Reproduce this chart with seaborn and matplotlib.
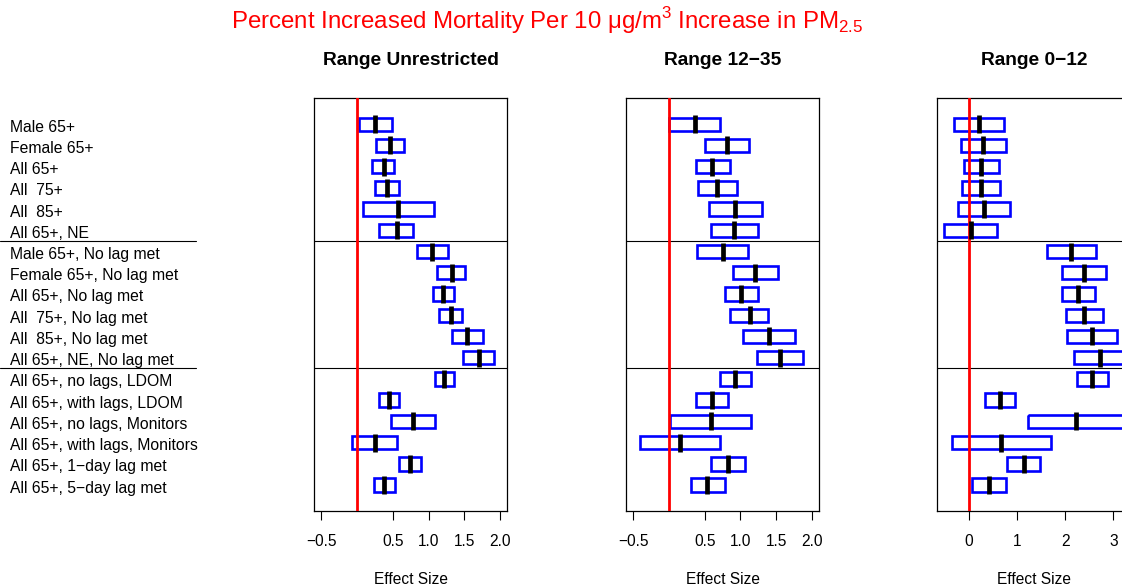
import numpy as np
import matplotlib
matplotlib.use("Agg")
import matplotlib.pyplot as plt
import matplotlib.transforms as mtransforms
from matplotlib.lines import Line2D
import seaborn as sns


# row labels, top to bottom
LABELS = [
    "Male 65+",
    "Female 65+",
    "All 65+",
    "All  75+",
    "All  85+",
    "All 65+, NE",
    "Male 65+, No lag met",
    "Female 65+, No lag met",
    "All 65+, No lag met",
    "All  75+, No lag met",
    "All  85+, No lag met",
    "All 65+, NE, No lag met",
    "All 65+, no lags, LDOM",
    "All 65+, with lags, LDOM",
    "All 65+, no lags, Monitors",
    "All 65+, with lags, Monitors",
    "All 65+, 1\u2212day lag met",
    "All 65+, 5\u2212day lag met",
]

PANEL_TITLES = ["Range Unrestricted", "Range 12\u221235", "Range 0\u221212"]

# Range Unrestricted
UNR_EST = [0.25, 0.46, 0.37, 0.42, 0.57, 0.55,
           1.05, 1.32, 1.20, 1.31, 1.53, 1.70,
           1.22, 0.45, 0.78, 0.25, 0.74, 0.38]
UNR_LO = [0.02, 0.26, 0.21, 0.25, 0.08, 0.31,
          0.84, 1.12, 1.06, 1.15, 1.32, 1.48,
          1.09, 0.31, 0.47, -0.07, 0.59, 0.23]
UNR_HI = [0.48, 0.66, 0.52, 0.59, 1.07, 0.78,
          1.27, 1.51, 1.35, 1.47, 1.76, 1.91,
          1.36, 0.59, 1.09, 0.56, 0.89, 0.53]

# Range 12-35
MID_EST = [0.36, 0.81, 0.61, 0.68, 0.93, 0.91,
           0.75, 1.21, 1.01, 1.13, 1.40, 1.55,
           0.93, 0.60, 0.59, 0.15, 0.83, 0.54]
MID_LO = [0.00, 0.50, 0.38, 0.41, 0.56, 0.59,
          0.40, 0.90, 0.78, 0.86, 1.04, 1.23,
          0.72, 0.38, 0.01, -0.41, 0.59, 0.31]
MID_HI = [0.71, 1.12, 0.85, 0.95, 1.30, 1.24,
          1.10, 1.52, 1.25, 1.39, 1.76, 1.87,
          1.15, 0.82, 1.15, 0.72, 1.06, 0.78]

# Range 0-12
LOW_EST = [0.21, 0.30, 0.26, 0.26, 0.31, 0.04,
           2.12, 2.39, 2.27, 2.39, 2.55, 2.72,
           2.55, 0.64, 2.23, 0.68, 1.15, 0.42]
LOW_LO = [-0.30, -0.16, -0.09, -0.14, -0.21, -0.50,
          1.62, 1.94, 1.93, 2.01, 2.03, 2.19,
          2.24, 0.33, 1.22, -0.35, 0.80, 0.07]
LOW_HI = [0.73, 0.78, 0.62, 0.66, 0.85, 0.59,
          2.63, 2.85, 2.61, 2.78, 3.08, 3.19,
          2.88, 0.97, 3.20, 1.70, 1.48, 0.77]

TICKS_A = [-0.5, 0.5, 1.0, 1.5, 2.0]
TICK_LABELS_A = ["\u22120.5", "0.5", "1.0", "1.5", "2.0"]
TICKS_C = [0, 1, 2, 3]
TICK_LABELS_C = ["0", "1", "2", "3"]


def main():

    sns.set_theme(style="ticks")
    plt.rcParams["font.family"] = ["Liberation Sans", "DejaVu Sans"]
    plt.rcParams["mathtext.fontset"] = "custom"
    plt.rcParams["mathtext.rm"] = "Liberation Sans"

    W, H = 1122, 588
    fig = plt.figure(figsize=(W / 100, H / 100), dpi=100)
    fig.patch.set_facecolor("white")

    rows = np.arange(1, len(LABELS) + 1)

    panels = [
        (UNR_EST, UNR_LO, UNR_HI, (-0.5, 2.0), TICKS_A, TICK_LABELS_A),
        (MID_EST, MID_LO, MID_HI, (-0.5, 2.0), TICKS_A, TICK_LABELS_A),
        (LOW_EST, LOW_LO, LOW_HI, (-0.5, 3.2), TICKS_C, TICK_LABELS_C),
    ]
    lefts = [314.3, 626.0, 937.3]
    pw = 193.0
    top_px, bot_px = 98.3, 511.0

    axes = []
    for i, (est, lo, hi, rng, ticks, tlabels) in enumerate(panels):

        ax = fig.add_axes([
            lefts[i] / W,
            (H - bot_px) / H,
            pw / W,
            (bot_px - top_px) / H
        ])
        axes.append(ax)

        est = np.array(est)
        lo = np.array(lo)
        hi = np.array(hi)

        # interval boxes
        ax.barh(
            rows,
            hi - lo,
            left=lo,
            height=0.63,
            fill=False,
            edgecolor="blue",
            linewidth=1.9,
            zorder=2
        )

        # point estimates
        sns.scatterplot(
            x=est,
            y=rows,
            marker="|",
            s=160,
            linewidth=3.4,
            color="black",
            zorder=4,
            ax=ax
        )

        ax.axvline(0, color="red", lw=2.0, zorder=3)
        for yy in (6.5, 12.5):
            ax.axhline(yy, color="black", lw=0.8, zorder=1)

        w = rng[1] - rng[0]
        ax.set_xlim(rng[0] - 0.04 * w, rng[1] + 0.04 * w)
        ax.set_ylim(len(LABELS) + 0.5 + 0.72, 0.5 - 0.72)

        ax.set_xticks(ticks)
        ax.set_xticklabels(tlabels, fontsize=11.2)
        ax.set_yticks([])
        ax.tick_params(axis="x", length=6.8, width=0.8, pad=10,
                       color="black", labelcolor="black")

        for sp in ax.spines.values():
            sp.set_visible(True)
            sp.set_color("black")
            sp.set_linewidth(0.9)

        ax.set_xlabel("Effect Size", fontsize=11.2, color="black")
        ax.xaxis.label.set_va("baseline")
        ax.xaxis.set_label_coords(0.5, -(584 - bot_px) / (bot_px - top_px))

        ax.text(
            0.5, (bot_px - 65) / (bot_px - top_px),
            PANEL_TITLES[i],
            transform=ax.transAxes,
            ha="center", va="baseline",
            fontsize=13.8, fontweight="bold", color="black"
        )

    # row labels on the left
    trans = mtransforms.blended_transform_factory(fig.transFigure, axes[0].transData)
    for r, lab in zip(rows, LABELS):
        fig.text(10 / W, r + 0.35, lab, transform=trans,
                 ha="left", va="baseline", fontsize=11.3, color="black")

    for yy in (6.5, 12.5):
        fig.add_artist(Line2D([0, 196 / W], [yy, yy], transform=trans,
                              color="black", lw=0.8))

    fig.text(
        547.5 / W, 1 - 29.3 / H,
        r"Percent Increased Mortality Per 10 $\mathregular{\mu}$g/m$^{\mathregular{3}}$ Increase in PM$_{\mathregular{2.5}}$",
        ha="center", va="baseline", fontsize=17.3, color="red"
    )

    fig.savefig("out.png", dpi=100)
    plt.close(fig)


if __name__ == "__main__":
    main()
